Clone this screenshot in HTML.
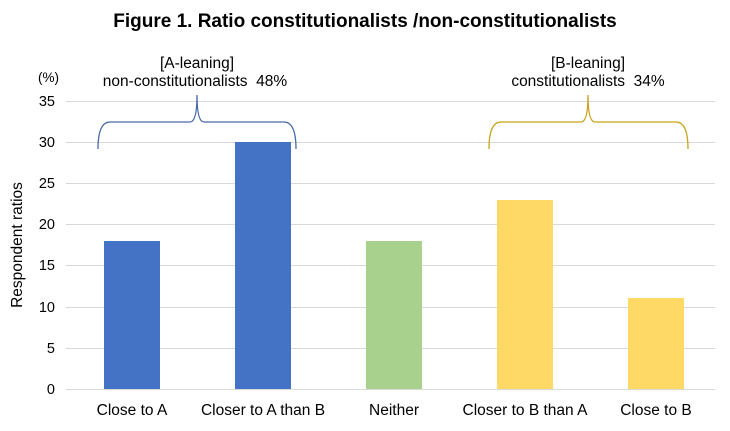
<!DOCTYPE html><html><head><style>body{margin:0;background:#fff}</style></head><body>
<svg width="730" height="426" xmlns="http://www.w3.org/2000/svg" font-family="Liberation Sans, sans-serif">
<text x="365" y="27" text-anchor="middle" font-size="19" font-weight="bold">Figure 1. Ratio constitutionalists /non-constitutionalists</text>
<g stroke="#d9d9d9" stroke-width="1">
<line x1="66" x2="715" y1="101.5" y2="101.5"/><line x1="66" x2="715" y1="142.5" y2="142.5"/><line x1="66" x2="715" y1="183.5" y2="183.5"/><line x1="66" x2="715" y1="224.5" y2="224.5"/><line x1="66" x2="715" y1="265.5" y2="265.5"/><line x1="66" x2="715" y1="307.5" y2="307.5"/><line x1="66" x2="715" y1="348.5" y2="348.5"/><line x1="66" x2="715" y1="389.5" y2="389.5"/></g>
<g font-size="14.5" text-anchor="end" fill="#000">
<text x="55" y="106">35</text><text x="55" y="147">30</text><text x="55" y="188">25</text><text x="55" y="229">20</text><text x="55" y="270">15</text><text x="55" y="312">10</text><text x="55" y="353">5</text><text x="55" y="394">0</text>
<text x="59" y="82" font-size="13.5">(%)</text></g>
<text transform="translate(22,245) rotate(-90)" text-anchor="middle" font-size="15.5">Respondent ratios</text>
<rect x="104" y="241" width="56" height="148" fill="#4472c4"/>
<rect x="235" y="142" width="56" height="247" fill="#4472c4"/>
<rect x="366" y="241" width="56" height="148" fill="#a9d18e"/>
<rect x="497" y="200" width="56" height="189" fill="#ffd966"/>
<rect x="628" y="298" width="56" height="91" fill="#ffd966"/>
<g font-size="15.5" text-anchor="middle">
<text x="132" y="415">Close to A</text><text x="263" y="415">Closer to A than B</text><text x="394" y="415">Neither</text><text x="525" y="415">Closer to B than A</text><text x="656" y="415">Close to B</text>
<text x="197" y="68">[A-leaning]</text><text x="195" y="86">non-constitutionalists&#160;&#160;48%</text>
<text x="588" y="68">[B-leaning]</text><text x="588" y="86">constitutionalists&#160;&#160;34%</text></g>
<path d="M98,149 Q98,122 110,122 L190,122 Q197,122 197,95 Q197,122 204,122 L284,122 Q296,122 296,149" fill="none" stroke="#4a6aa8" stroke-width="1.3"/>
<path d="M489,149 Q489,122 501,122 L581,122 Q588,122 588,95 Q588,122 595,122 L676,122 Q688,122 688,149" fill="none" stroke="#c9a21a" stroke-width="1.3"/>
</svg></body></html>
